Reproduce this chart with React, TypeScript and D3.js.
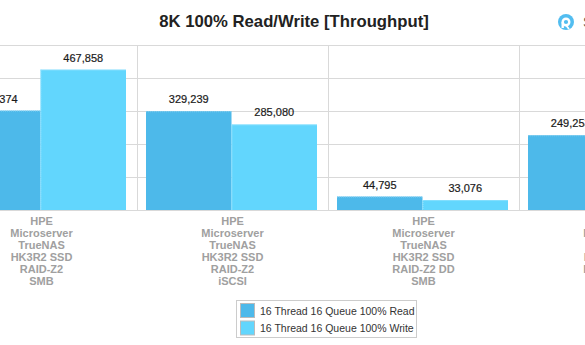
import React from "react";
import * as d3 from "d3";

const categories: string[][] = [
  ["HPE", "Microserver", "TrueNAS", "HK3R2 SSD", "RAID-Z2", "SMB"],
  ["HPE", "Microserver", "TrueNAS", "HK3R2 SSD", "RAID-Z2", "iSCSI"],
  ["HPE", "Microserver", "TrueNAS", "HK3R2 SSD", "RAID-Z2 DD", "SMB"],
  ["HPE", "Microserver", "TrueNAS", "HK3R2 SSD", "RAID-Z2 DD", "iSCSI"],
];
const seriesNames = ["16 Thread 16 Queue 100% Read", "16 Thread 16 Queue 100% Write"];
const readValues = [331374, 329239, 44795, 249253];
const writeValues = [467858, 285080, 33076, 240000];
const yTicks = [0, 110000, 220000, 330000, 440000, 550000];
const title = "8K 100% Read/Write [Throughput]";

const colors = ["#4db9ea", "#62d6fd"];
const strokes = ["#7fcdf0", "#9ae4fd"];
const FONT = "'Liberation Sans', Arial, sans-serif";

export default function App() {
  const W = 585, H = 345;
  const plotTop = 45, plotBottom = 210;
  const x0 = d3.scaleBand<number>().domain(d3.range(categories.length)).range([-54, -54 + 191 * categories.length]).paddingInner(0).paddingOuter(0);
  const x1 = d3.scaleBand<number>().domain([0, 1]).range([9, 180]).padding(0);
  const y = d3.scaleLinear().domain([0, 550000]).range([plotBottom, plotTop]);
  const fmt = d3.format(",");
  const series = [readValues, writeValues];

  return (
    <svg width={W} height={H} style={{ position: "absolute", left: 0, top: 0, background: "#fff" }}>
      <rect width={W} height={H} fill="#fff" />
      <text x={294} y={27} textAnchor="middle" fontFamily={FONT} fontSize={16.7} fontWeight="bold" fill="#222">{title}</text>
      {/* logo */}
      <g transform="translate(566,22)">
        <circle r={8} fill="#52bdf0" />
        <circle r={3.3} fill="none" stroke="#fff" strokeWidth={2.4} />
        <path d="M-3.3,0 L-3.3,6" stroke="#fff" strokeWidth={2.4} />
        <path d="M0,3.3 L3,7" stroke="#fff" strokeWidth={1.8} />
      </g>
      <text x={583} y={27} fontFamily={FONT} fontSize={14} fill="#555">S</text>
      {/* gridlines */}
      {yTicks.map((t) => (
        <line key={t} x1={0} x2={W} y1={y(t)} y2={y(t)} stroke="#d9d9d9" strokeWidth={1} shapeRendering="crispEdges" />
      ))}
      {d3.range(categories.length + 1).map((i) => {
        const xv = -54 + 191 * i;
        return <line key={i} x1={xv} x2={xv} y1={plotTop} y2={plotBottom} stroke="#d9d9d9" shapeRendering="crispEdges" />;
      })}
      {/* bars */}
      {categories.map((_, ci) => (
        <g key={ci} transform={`translate(${x0(ci)},0)`}>
          {series.map((vals, si) => {
            const bx = x1(si)!;
            const bw = x1.bandwidth();
            const by = y(vals[ci]);
            return (
              <g key={si}>
                <rect x={bx} y={by} width={bw} height={plotBottom - by} fill={colors[si]} />
                <line x1={bx} x2={bx + bw} y1={by + 0.5} y2={by + 0.5} stroke={strokes[si]} strokeDasharray="1,1" />
                {si === 1 && <line x1={bx + 0.5} x2={bx + 0.5} y1={by} y2={plotBottom} stroke={strokes[si]} strokeDasharray="1,1" />}
                <text x={bx + bw / 2} y={by - 8} textAnchor="middle" fontFamily={FONT} fontSize={11} fill="#1a1a1a" stroke="#1a1a1a" strokeWidth={0.2}>{fmt(vals[ci])}</text>
              </g>
            );
          })}
          {categories[ci].map((line, li) => (
            <text key={li} x={95.5} y={225 + li * 12} textAnchor="middle" fontFamily={FONT} fontSize={11} fontWeight="bold" fill="#a0a0a0">{line}</text>
          ))}
        </g>
      ))}
      {/* legend */}
      <g>
        <rect x={236.5} y={300.5} width={180} height={37} fill="#fff" stroke="#cccccc" />
        {seriesNames.map((n, i) => (
          <g key={n} transform={`translate(240,${303 + i * 17.5})`}>
            <rect x={0.5} y={0.5} width={14} height={14} fill={colors[i]} stroke="#bbbbbb" />
            <text x={20} y={11.5} fontFamily={FONT} fontSize={10.5} fill="#333">{n}</text>
          </g>
        ))}
      </g>
    </svg>
  );
}
